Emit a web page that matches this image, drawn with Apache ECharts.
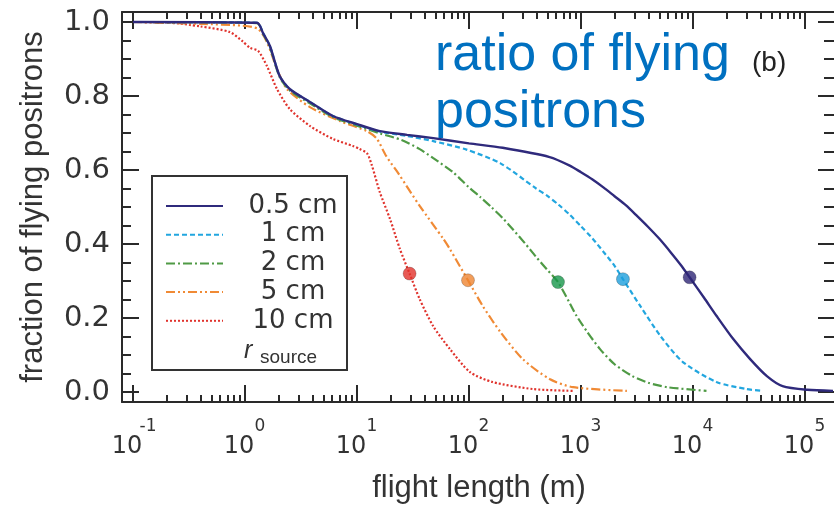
<!DOCTYPE html>
<html>
<head>
<meta charset="utf-8">
<script src="https://cdn.jsdelivr.net/npm/echarts@6.0.0/dist/echarts.min.js"></script>
<style>
html, body { margin: 0; padding: 0; background: #fff; }
#chart { width: 834px; height: 505px; }
</style>
</head>
<body>
<div id="chart"></div>
<script>
// 源半径
var names = ['0.5 cm', '1 cm', '2 cm', '5 cm', '10 cm'];

// 飞行长度 (m) 与 飞行正电子比例
var len05 = [0.1, 1.28, 1.45, 1.67, 2.04, 2.51, 3.8, 6.1, 10, 16, 28, 48, 100, 200, 525, 794, 1000, 1259, 1585, 1995, 2512, 3162, 3981, 5012, 6310, 7943, 9330, 12600, 16200, 22900, 32400, 45700, 63100, 105000, 178000];
var frac05 = [1.0, 0.998, 0.97, 0.935, 0.854, 0.819, 0.784, 0.746, 0.724, 0.705, 0.695, 0.686, 0.672, 0.66, 0.635, 0.612, 0.594, 0.575, 0.553, 0.529, 0.505, 0.476, 0.446, 0.414, 0.378, 0.34, 0.31, 0.254, 0.206, 0.143, 0.089, 0.043, 0.016, 0.006, 0.003];

var len1 = [0.1, 1.28, 1.45, 1.67, 2.04, 2.51, 3.8, 6.1, 10, 16, 28, 48, 95, 191, 398, 501, 631, 794, 1000, 1259, 1585, 1995, 2370, 3390, 5130, 8130, 16200, 30000, 42000];
var frac1 = [1.0, 0.998, 0.97, 0.935, 0.854, 0.819, 0.784, 0.746, 0.723, 0.704, 0.692, 0.678, 0.655, 0.618, 0.55, 0.53, 0.506, 0.479, 0.448, 0.416, 0.379, 0.341, 0.305, 0.232, 0.151, 0.081, 0.027, 0.008, 0.003];

var len2 = [0.1, 1.28, 1.45, 1.67, 2.04, 2.51, 3.8, 6.1, 10, 16, 25, 36, 48, 72, 100, 126, 158, 200, 251, 316, 398, 501, 624, 794, 912, 1122, 1480, 1995, 2880, 3980, 5900, 13200];
var frac2 = [1.0, 0.997, 0.968, 0.932, 0.851, 0.815, 0.78, 0.743, 0.72, 0.699, 0.681, 0.657, 0.632, 0.594, 0.553, 0.527, 0.5, 0.47, 0.437, 0.402, 0.365, 0.33, 0.297, 0.24, 0.206, 0.165, 0.116, 0.075, 0.043, 0.025, 0.013, 0.003];

var len5 = [0.1, 0.4, 0.95, 1.31, 1.57, 1.93, 2.37, 3.8, 7.1, 12.3, 15, 18.2, 23.5, 36.3, 59, 67.6, 98, 133, 191, 302, 525, 850, 2570];
var frac5 = [1.0, 0.995, 0.99, 0.981, 0.946, 0.873, 0.819, 0.77, 0.732, 0.705, 0.685, 0.638, 0.59, 0.503, 0.414, 0.386, 0.302, 0.232, 0.162, 0.089, 0.035, 0.013, 0.003];

var len10 = [0.1, 0.2, 0.4, 0.73, 0.95, 1.11, 1.31, 1.57, 1.93, 2.51, 3.8, 6.1, 9.2, 10.5, 12.3, 13.5, 16, 19.7, 24.2, 29.5, 36.3, 47.9, 67.6, 102, 162, 372, 850];
var frac10 = [1.0, 0.999, 0.988, 0.973, 0.948, 0.93, 0.922, 0.881, 0.819, 0.765, 0.719, 0.684, 0.665, 0.657, 0.645, 0.615, 0.54, 0.468, 0.386, 0.32, 0.251, 0.178, 0.116, 0.054, 0.027, 0.008, 0.003];

// 半数点
var halfLen = [9330, 2370, 624, 98, 29.5];
var halfFrac = [0.31, 0.305, 0.297, 0.302, 0.32];

// 刻度
var decades = [-1, 0, 1, 2, 3, 4, 5];
var yTicks = [0, 0.2, 0.4, 0.6, 0.8, 1.0];
var yMinor = [0.05, 0.1, 0.15, 0.25, 0.3, 0.35, 0.45, 0.5, 0.55, 0.65, 0.7, 0.75, 0.85, 0.9, 0.95];

var lens = [len05, len1, len2, len5, len10];
var fracs = [frac05, frac1, frac2, frac5, frac10];
var colors = ['#2f2a7c', '#22a6df', '#4f9a45', '#f08a35', '#e0332d'];
var dotColors = ['#2e2676', '#1d9fdc', '#17964a', '#ef8531', '#e2312b'];
var lineTypes = ['solid', [5, 3], [9, 3, 2, 3], [9, 3, 2, 3, 2, 3], [2, 2]];

var xMin = -1.098, xMax = 5.277;
var yMin = -0.027, yMax = 1.027;
var axisColor = '#2a2a2a';

var minorX = [];
decades.forEach(function (d) {
    for (var k = 2; k <= 9; k++) {
        var v = d + Math.log10(k);
        if (v < xMax) minorX.push(v);
    }
});

function toPts(xs, ys) {
    return xs.map(function (x, i) { return [Math.log10(x), ys[i]]; });
}

// 刻度轴（不带标签）
function tickAxis(pos, min, max, vals, len, showLine) {
    return {
        type: 'value', position: pos, min: min, max: max,
        axisLine: { show: showLine, onZero: false, lineStyle: { color: axisColor, width: 2 } },
        axisTick: { inside: true, length: len, customValues: vals, lineStyle: { color: axisColor, width: 2 } },
        axisLabel: { show: false },
        splitLine: { show: false }
    };
}

var chart = echarts.init(document.getElementById('chart'));

var series = names.map(function (n, i) {
    return {
        name: n,
        type: 'line',
        data: toPts(lens[i], fracs[i]),
        symbol: 'none',
        smooth: 0.25,
        z: 8 - i,
        itemStyle: { color: colors[i] },
        lineStyle: { color: colors[i], width: i === 0 ? 2.4 : 2.2, type: lineTypes[i] }
    };
});
series.push({
    name: 'half',
    type: 'scatter',
    symbolSize: 13,
    z: 10,
    data: halfLen.map(function (x, i) {
        return { value: [Math.log10(x), halfFrac[i]], itemStyle: { color: dotColors[i] } };
    }),
    itemStyle: { borderColor: 'rgba(0,0,0,0.25)', borderWidth: 1 }
});

var bottomAxis = tickAxis('bottom', xMin, xMax, decades, 17, true);
bottomAxis.name = 'flight length (m)';
bottomAxis.nameLocation = 'middle';
bottomAxis.nameGap = 71;
bottomAxis.nameMoveOverlap = false;
bottomAxis.nameTextStyle = { fontFamily: 'Liberation Sans', fontSize: 31, color: '#333' };
// 上标：第一行是指数，第二行是 10，两行等宽
bottomAxis.axisLabel = {
    customValues: decades, margin: 15,
    formatter: function (v) { return '{e| }{s|' + v + '}\n{b|10}{f| }'; },
    rich: {
        e: { fontFamily: 'DejaVu Sans', fontSize: 17, lineHeight: 19, width: 30 },
        s: { fontFamily: 'DejaVu Sans', fontSize: 17, lineHeight: 19, width: 12, color: '#333' },
        b: { fontFamily: 'DejaVu Sans', fontSize: 24, lineHeight: 21, width: 30, color: '#333' },
        f: { fontFamily: 'DejaVu Sans', fontSize: 17, lineHeight: 21, width: 12 }
    }
};

var leftAxis = tickAxis('left', yMin, yMax, yTicks, 17, true);
leftAxis.name = 'fraction of flying positrons';
leftAxis.nameLocation = 'middle';
leftAxis.nameGap = 73;
leftAxis.nameMoveOverlap = false;
leftAxis.nameTextStyle = { fontFamily: 'Liberation Sans', fontSize: 31, color: '#333' };
leftAxis.axisLabel = {
    customValues: yTicks, margin: 12,
    fontFamily: 'DejaVu Sans', fontSize: 29, color: '#333',
    formatter: function (v) { return v.toFixed(1); }
};

var option = {
    animation: false,
    backgroundColor: '#ffffff',
    grid: { left: 122, top: 12, width: 714, height: 390, containLabel: false, outerBoundsMode: 'none' },
    legend: {
        data: names,
        orient: 'vertical',
        left: 165,
        top: 193,
        padding: 0,
        itemWidth: 57,
        itemHeight: 20,
        itemGap: 2.7,
        itemStyle: { opacity: 0 },
        formatter: function (n) { return '{t|' + n + '}'; },
        textStyle: {
            color: '#333',
            rich: { t: { width: 130, align: 'center', fontFamily: 'DejaVu Sans', fontSize: 26, lineHeight: 20, color: '#333' } }
        }
    },
    xAxis: [
        bottomAxis,
        tickAxis('bottom', xMin, xMax, minorX, 7, false),
        tickAxis('top', xMin, xMax, decades, 17, true),
        tickAxis('top', xMin, xMax, minorX, 7, false)
    ],
    yAxis: [
        leftAxis,
        tickAxis('left', yMin, yMax, yMinor, 9, false),
        tickAxis('right', yMin, yMax, yTicks, 18, true),
        tickAxis('right', yMin, yMax, yMinor, 12, false)
    ],
    graphic: [
        {
            type: 'rect', z: 50,
            shape: { x: 152, y: 176, width: 195, height: 194 },
            style: { fill: null, stroke: '#333', lineWidth: 2 }
        },
        {
            type: 'text', x: 244, y: 351, z: 50,
            style: { text: 'r', font: 'italic 25px "Liberation Sans"', fill: '#333', verticalAlign: 'middle' }
        },
        {
            type: 'text', x: 260, y: 358, z: 50,
            style: { text: 'source', font: '19px "Liberation Sans"', fill: '#333', verticalAlign: 'middle' }
        },
        {
            type: 'text', x: 435, y: 27, z: 50,
            style: { text: 'ratio of flying\npositrons', font: '52px "Liberation Sans"', lineHeight: 57, fill: '#0070c0', verticalAlign: 'top' }
        },
        {
            type: 'text', x: 752, y: 63, z: 50,
            style: { text: '(b)', font: '28px "Liberation Sans"', fill: '#222', verticalAlign: 'middle' }
        }
    ],
    series: series
};

chart.setOption(option);
</script>
</body>
</html>
